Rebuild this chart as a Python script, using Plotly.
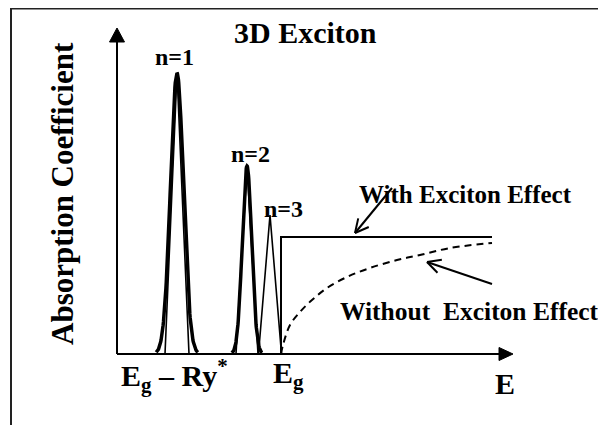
import numpy as np
import plotly.graph_objects as go

# ---------------- data (schematic units; origin at the axes corner) ----------------
peak_labels = ["n=1", "n=2", "n=3"]
peak_energy = [60, 130, 153]          # exciton line positions
peak_height = [281, 188, 139]         # peak absorption
peak_sigma = [6.5, 4.7, 0.0]          # gaussian width of the broadened lines (0: no gaussian)
peak_base = [12, 11, 11.5]            # half-width of the triangular line shape

edge_energy = 164                     # band gap Eg
edge_level = 117                      # flat absorption with exciton effect
edge_end = 375                        # end of drawn continuum

free_E = [164, 166, 173, 183, 195, 210, 230, 253, 280, 303, 333, 375]
free_alpha = [0, 9, 29, 42, 54, 66, 77, 86, 94, 99, 106, 111]

x_axis_end = 396
y_axis_end = 326

FONT = "Liberation Serif"

fig = go.Figure()

# exciton peaks: thick gaussian + thin triangle
for c, h, s, b in zip(peak_energy, peak_height, peak_sigma, peak_base):
    if s > 0:
        xs = np.linspace(c - 3.2 * s, c + 3.2 * s, 121)
        ys = h * np.exp(-((xs - c) ** 2) / (2 * s ** 2))
        fig.add_trace(go.Scatter(x=xs, y=ys, mode="lines",
                                 line=dict(color="black", width=3.5), hoverinfo="skip"))
    fig.add_trace(go.Scatter(x=[c - b, c, c + b, c - b], y=[0, h, 0, 0], mode="lines",
                             line=dict(color="black", width=1.6), hoverinfo="skip"))

# continuum with exciton effect (step)
fig.add_trace(go.Scatter(x=[edge_energy, edge_energy, edge_end],
                         y=[0, edge_level, edge_level], mode="lines",
                         line=dict(color="black", width=2), hoverinfo="skip"))

# continuum without exciton effect (dashed)
fig.add_trace(go.Scatter(x=free_E, y=free_alpha, mode="lines", line_shape="spline",
                         line=dict(color="black", width=2, dash="7px,5px"), hoverinfo="skip"))

shapes = []
# axes
shapes.append(dict(type="line", xref="x", yref="y", x0=0, y0=0, x1=x_axis_end - 10, y1=0,
                   line=dict(color="black", width=2)))
shapes.append(dict(type="line", xref="x", yref="y", x0=0, y0=0, x1=0, y1=y_axis_end - 10,
                   line=dict(color="black", width=2)))
shapes.append(dict(type="path", xref="x", yref="y",
                   path=f"M {x_axis_end},0 L {x_axis_end-14},6.5 L {x_axis_end-14},-6.5 Z",
                   fillcolor="black", line=dict(color="black", width=1)))
shapes.append(dict(type="path", xref="x", yref="y",
                   path=f"M 0,{y_axis_end} L -7.5,{y_axis_end-14} L 7.5,{y_axis_end-14} Z",
                   fillcolor="black", line=dict(color="black", width=1)))
# frame (top and left edges)
shapes.append(dict(type="path", xref="x", yref="y",
                   path="M -106,-80 L -106,345.5 L 500,345.5",
                   line=dict(color="#222", width=2)))


def pointer(x0, y0, x1, y1, length=15, ang=27):
    """line from (x0,y0) to tip (x1,y1) with an open V head"""
    out = [dict(type="line", xref="x", yref="y", x0=x0, y0=y0, x1=x1, y1=y1,
                line=dict(color="black", width=2))]
    th = np.arctan2(y0 - y1, x0 - x1)
    for s in (-1, 1):
        a = th + s * np.radians(ang)
        out.append(dict(type="line", xref="x", yref="y", x0=x1, y0=y1,
                        x1=x1 + length * np.cos(a), y1=y1 + length * np.sin(a),
                        line=dict(color="black", width=2)))
    return out


shapes += pointer(275, 166, 238, 121)
shapes += pointer(375, 70, 310, 92)

annotations = []


def txt(x, y, t, size, **kw):
    annotations.append(dict(x=x, y=y, xref="x", yref="y", text=t, showarrow=False,
                            font=dict(family=FONT, size=size, color="black"), **kw))


txt(188, 322, "<b>3D Exciton</b>", 30)
label_pos = [(57, 297), (133, 200), (166, 145)]
for (lx, ly), lab in zip(label_pos, peak_labels):
    txt(lx, ly, f"<b>{lab}</b>", 24)
txt(348, 160, "<b>With Exciton Effect</b>", 25)
txt(352, 43, "<b>Without  Exciton Effect</b>", 25.5)
txt(57, -21, "<b>E<sub>g</sub> – Ry<sup>*</sup></b>", 30)
txt(171, -21, "<b>E<sub>g</sub></b>", 30)
txt(388, -29, "<b>E</b>", 30)
txt(-55, 160, "<b>Absorption Coefficient</b>", 31, textangle=-90)

# the page places the figure 8px in from the window corner
fig.update_layout(
    width=598, height=417,
    margin=dict(l=0, r=0, t=0, b=0),
    paper_bgcolor="white", plot_bgcolor="white",
    showlegend=False,
    xaxis=dict(range=[-109, 489], visible=False, fixedrange=True),
    yaxis=dict(range=[-71, 346], visible=False, fixedrange=True),
    shapes=shapes, annotations=annotations,
)

fig.write_html("out.html")
